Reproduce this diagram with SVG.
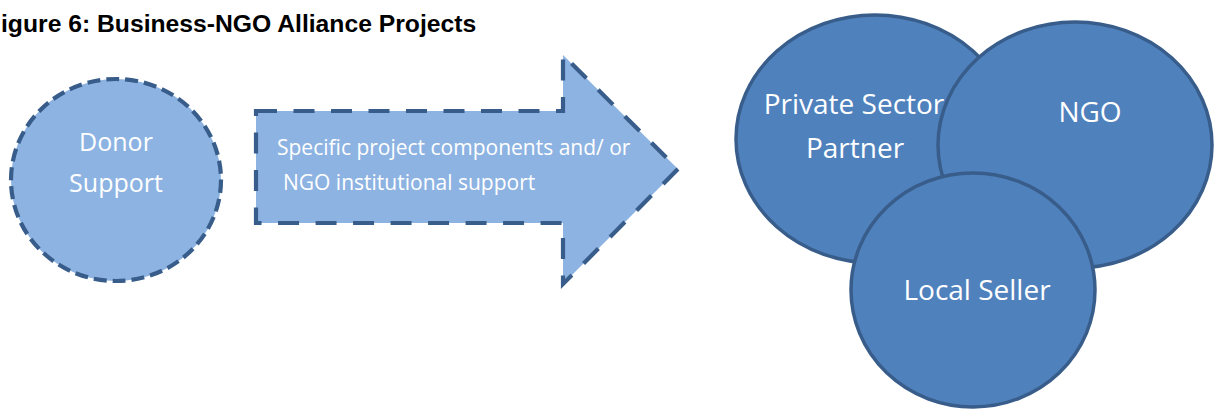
<svg xmlns="http://www.w3.org/2000/svg" width="1216" height="409" viewBox="0 0 1216 409">
<style>
.title{font-family:"Liberation Sans",Arial,sans-serif;font-weight:bold;font-size:24.7px;fill:#000}
.lbl{font-family:"Open Sans","Liberation Sans",sans-serif;fill:#ffffff;text-anchor:middle}
.light{fill:#8db3e2;stroke:#385d8a;stroke-width:4.2}
.dark{fill:#4f81bd;stroke:#385d8a;stroke-width:3.5}
</style>
<rect width="1216" height="409" fill="#ffffff"/>
<text class="title" x="1" y="32">igure 6: Business-NGO Alliance Projects</text>
<g id="donor">
<ellipse class="light" cx="116" cy="180" rx="105" ry="101" stroke-dasharray="13 6"/>
<text class="lbl" x="116" y="151" font-size="25">Donor</text>
<text class="lbl" x="116" y="192" font-size="25">Support</text>
</g>
<g id="connectors">
<g id="arrow">
<path class="light" d="M256,111 L563,111 L563,55 L678,169 L563,284 L563,223 L256,223 Z" stroke-linejoin="miter" stroke-dasharray="21 16.5"/>
<text class="lbl" x="277" y="155" font-size="21" style="text-anchor:start">Specific project components and/ or</text>
<text class="lbl" x="283" y="190" font-size="21" style="text-anchor:start">NGO institutional support</text>
</g>
</g>
<g id="private">
<ellipse class="dark" cx="875" cy="139" rx="139" ry="124"/>
<text class="lbl" x="854" y="114" font-size="28">Private Sector</text>
<text class="lbl" x="855" y="158" font-size="28">Partner</text>
</g>
<g id="ngo">
<ellipse class="dark" cx="1075" cy="145" rx="137" ry="123"/>
<text class="lbl" x="1090" y="122" font-size="28">NGO</text>
</g>
<g id="seller">
<ellipse class="dark" cx="973" cy="290" rx="122" ry="117"/>
<text class="lbl" x="977" y="300" font-size="28">Local Seller</text>
</g>
</svg>
